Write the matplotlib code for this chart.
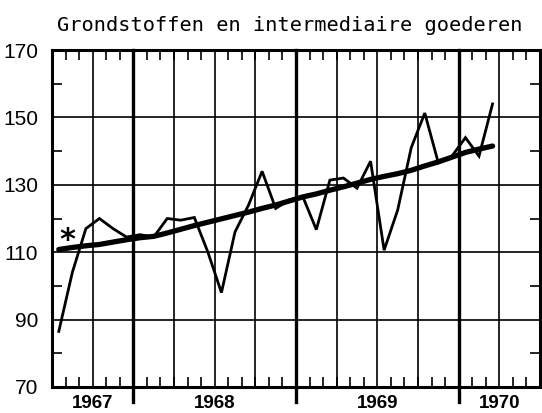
import matplotlib
matplotlib.use("Agg")
import matplotlib.pyplot as plt
import numpy as np

# Monthly data, July 1967 .. March 1970
month_labels = ["1967-07", "1967-08", "1967-09", "1967-10", "1967-11", "1967-12",
                "1968-01", "1968-02", "1968-03", "1968-04", "1968-05", "1968-06",
                "1968-07", "1968-08", "1968-09", "1968-10", "1968-11", "1968-12",
                "1969-01", "1969-02", "1969-03", "1969-04", "1969-05", "1969-06",
                "1969-07", "1969-08", "1969-09", "1969-10", "1969-11", "1969-12",
                "1970-01", "1970-02", "1970-03"]
index_values = [86.5, 104, 117, 120, 117, 114.5,
                115.2, 114.5, 120, 119.5, 120.3, 110,
                98, 116, 124, 134, 123, 125.5,
                126.5, 116.7, 131.4, 132, 129, 137,
                110.6, 122.5, 141, 151.3, 136.5, 138.5,
                144, 138.5, 154]
trend_values = [110.8, 111.4, 111.9, 112.3, 113.0, 113.7,
                114.3, 114.7, 115.7, 116.8, 117.9, 118.9,
                119.9, 120.9, 121.9, 123.0, 124.0, 125.2,
                126.4, 127.3, 128.4, 129.4, 130.5, 131.6,
                132.5, 133.3, 134.3, 135.6, 136.8, 138.2,
                139.6, 140.6, 141.5]
years = ["1967", "1968", "1969", "1970"]
y_ticks = [70, 90, 110, 130, 150, 170]
title = "Grondstoffen en intermediaire goederen"
star_month = "1967-08"
star_value = 114.5

start_year, start_month = 1967, 7
n_span = 36  # months shown on axis (Jul 1967 - Jun 1970)

def month_pos(label):
    y, m = map(int, label.split("-"))
    return (y - start_year) * 12 + (m - start_month) + 0.5

x = np.array([month_pos(m) for m in month_labels])

fig = plt.figure(figsize=(5.42, 4.13), dpi=100)
ax = fig.add_axes([52 / 542, 26 / 413, 488 / 542, 337 / 413])
ax.set_xlim(0, n_span)
ax.set_ylim(70, 170)

# grid lines
for v in y_ticks[1:-1]:
    ax.axhline(v, color="black", lw=1.2, zorder=1)
year_bounds = [(int(yy) - start_year) * 12 - (start_month - 1) for yy in years[1:]]
for q in range(3, n_span, 3):
    if q in year_bounds:
        continue
    ax.axvline(q, color="black", lw=1.2, zorder=1)
for b in year_bounds:
    ax.axvline(b, ymin=-0.045, ymax=1, color="black", lw=2.4, clip_on=False, zorder=1)

# data
ax.plot(x, index_values, color="black", lw=2.0, zorder=3, solid_joinstyle="miter")
ax.plot(x, trend_values, color="black", lw=3.8, zorder=4, solid_capstyle="round")
ax.text(month_pos(star_month) - 0.4, star_value - 1.0, "*", fontsize=22, ha="center",
        va="center", fontweight="bold", family="DejaVu Sans")

for s in ax.spines.values():
    s.set_linewidth(2.2)

# x ticks: monthly minor ticks inward; year labels at middle of visible part
ax.set_xticks(np.arange(1, n_span), minor=True)
label_pos = []
for yy in years:
    a = max(0, (int(yy) - start_year) * 12 - (start_month - 1))
    b = min(n_span, (int(yy) - start_year + 1) * 12 - (start_month - 1))
    label_pos.append((a + b) / 2)
ax.set_xticks(label_pos)
ax.set_xticklabels(years, fontsize=13.5, fontweight="bold", family="Liberation Sans")
ax.tick_params(axis="x", which="major", length=0, pad=6)
ax.tick_params(axis="x", which="minor", direction="in", top=True, bottom=True,
               length=7, width=1.2)

ax.set_yticks(y_ticks)
ax.set_yticklabels([str(v) for v in y_ticks], fontsize=15, family="Liberation Sans")
ax.set_yticks(np.arange(80, 170, 20), minor=True)
ax.tick_params(axis="y", which="major", length=0, pad=10)
ax.tick_params(axis="y", which="minor", direction="in", left=True, right=True,
               length=7, width=1.2)

fig.text(57 / 542, 1 - 31 / 413, title, fontsize=14.6, ha="left", va="baseline",
         family="DejaVu Sans Mono")

fig.savefig("out.png", dpi=100)
